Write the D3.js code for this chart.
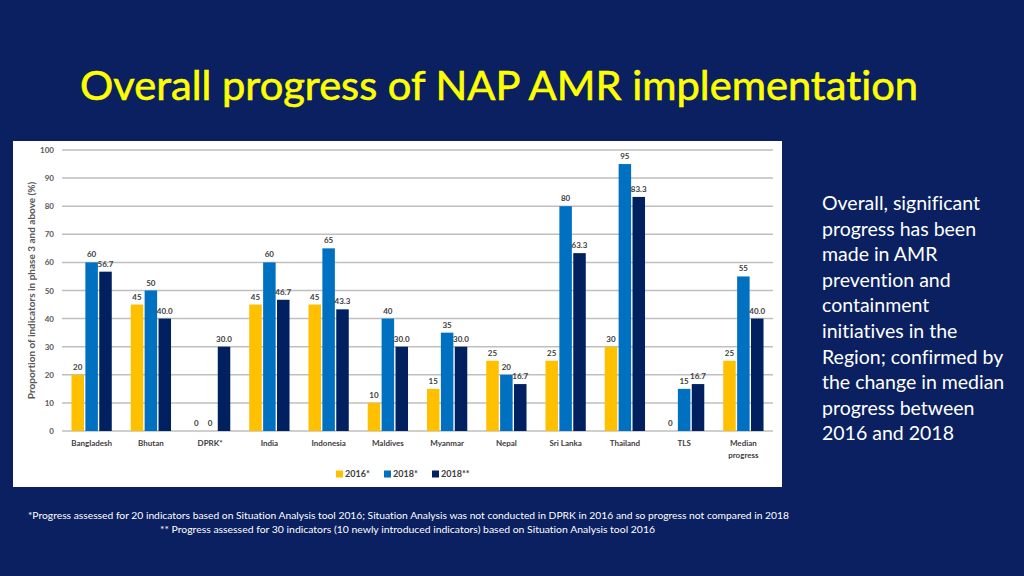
<!DOCTYPE html>
<html><head><meta charset="utf-8">
<script src="https://cdn.jsdelivr.net/npm/d3@7"></script>
<style>
html,body{margin:0;padding:0;background:#0a2060;}
svg{display:block;}
text{font-variant-ligatures:none;font-feature-settings:"liga" 0;}
</style></head>
<body>
<svg id="c" width="1024" height="576"></svg>
<script>
const categories = ["Bangladesh","Bhutan","DPRK*","India","Indonesia","Maldives","Myanmar","Nepal","Sri Lanka","Thailand","TLS","Median progress"];
const series2016 = [20,45,0,45,45,10,15,25,25,30,0,25];
const series2018a = [60,50,0,60,65,40,35,20,80,95,15,55];
const series2018b = [56.7,40.0,30.0,46.7,43.3,30.0,30.0,16.7,63.3,83.3,16.7,40.0];
const seriesNames = ["2016*","2018*","2018**"];
const yTicks = [0,10,20,30,40,50,60,70,80,90,100];
const colors = ["#FFC000","#0070C0","#002060"];

(function(){
const svg = d3.select("#c");
svg.append("rect").attr("width",1024).attr("height",576).attr("fill","#0a2060");

svg.append("text").attr("x",80).attr("y",100)
  .attr("font-family","Lato, 'Open Sans', sans-serif").attr("font-size",40)
  .attr("fill","#ffff00").attr("stroke","#ffff00").attr("stroke-width",0.6)
  .attr("textLength",838).attr("lengthAdjust","spacingAndGlyphs")
  .text("Overall progress of NAP AMR implementation");

svg.append("rect").attr("x",13).attr("y",141).attr("width",769).attr("height",346).attr("fill","#ffffff");

const pL=62, pR=773, pT=150, pB=431;
const x = d3.scaleBand().domain(categories).range([pL,pR]).paddingInner(0.32).paddingOuter(0.16);
const xs = d3.scaleBand().domain(seriesNames).range([0,x.bandwidth()]).paddingInner(0.1);
const y = d3.scaleLinear().domain([0,100]).range([pB,pT]);

svg.append("g").selectAll("line").data(yTicks).join("line")
  .attr("x1",pL).attr("x2",pR).attr("y1",d=>y(d)).attr("y2",d=>y(d))
  .attr("stroke","#bfbfbf").attr("stroke-width",1.5);

const yAxis = d3.axisLeft(y).tickValues(yTicks).tickSize(0).tickPadding(8);
const ga = svg.append("g").attr("transform",`translate(${pL},0)`).call(yAxis);
ga.select(".domain").remove();
ga.selectAll("text").attr("font-family","Lato, sans-serif").attr("font-size",8).attr("font-weight","bold").attr("fill","#595959");

svg.append("text").attr("transform",`translate(35,${(pT+pB)/2}) rotate(-90)`)
  .attr("text-anchor","middle").attr("font-family","Lato, sans-serif").attr("font-size",10).attr("font-weight","bold")
  .attr("fill","#595959").text("Proportion of indicators in phase 3 and above (%)");

const data = [series2016, series2018a, series2018b];
const fmt = [d3.format("d"), d3.format("d"), d3.format(".1f")];
data.forEach((vals,si)=>{
  const g = svg.append("g");
  g.selectAll("rect").data(vals).join("rect")
    .attr("x",(d,i)=>x(categories[i])+xs(seriesNames[si]))
    .attr("width",xs.bandwidth())
    .attr("y",d=>y(d)).attr("height",d=>pB-y(d))
    .attr("fill",colors[si]);
  g.selectAll("text").data(vals).join("text")
    .attr("x",(d,i)=>x(categories[i])+xs(seriesNames[si])+xs.bandwidth()/2)
    .attr("y",d=>y(d)-5)
    .attr("text-anchor","middle").attr("font-family","Lato, sans-serif").attr("font-size",8).attr("font-weight","bold")
    .attr("fill","#404040").text(d=>fmt[si](d));
});

const cl = svg.append("g");
categories.forEach(c=>{
  const words = c==="Median progress" ? ["Median","progress"] : [c];
  const t = cl.append("text").attr("x",x(c)+x.bandwidth()/2).attr("y",446)
    .attr("text-anchor","middle").attr("font-family","Lato, sans-serif").attr("font-size",8).attr("font-weight","bold").attr("fill","#404040");
  words.forEach((w,i)=>t.append("tspan").attr("x",x(c)+x.bandwidth()/2).attr("dy",i?12:0).text(w));
});

const lg = svg.append("g").attr("transform","translate(336,474)");
const lx=[0,48,96];
seriesNames.forEach((n,i)=>{
  lg.append("rect").attr("x",lx[i]).attr("y",-3.5).attr("width",7).attr("height",7).attr("fill",colors[i]);
  lg.append("text").attr("x",lx[i]+9).attr("y",3).attr("font-family","Lato, sans-serif").attr("font-size",9).attr("font-weight","bold").attr("fill","#404040").text(n);
});

const lines = ["Overall, significant","progress has been","made in AMR","prevention and","containment","initiatives in the","Region; confirmed by","the change in median","progress between","2016 and 2018"];
svg.append("g").selectAll("text").data(lines).join("text")
  .attr("x",822).attr("y",(d,i)=>210+i*25.6)
  .attr("font-family","Lato, 'Open Sans', sans-serif").attr("font-size",19.5).attr("fill","#ffffff").text(d=>d);

svg.append("text").attr("x",28).attr("y",519)
  .attr("font-family","Lato, sans-serif").attr("font-size",10).attr("fill","#ffffff")
  .attr("textLength",761).attr("lengthAdjust","spacingAndGlyphs")
  .text("*Progress assessed for 20 indicators based on Situation Analysis tool 2016; Situation Analysis was not conducted in DPRK in 2016 and so progress not compared in 2018");
svg.append("text").attr("x",160).attr("y",533)
  .attr("font-family","Lato, sans-serif").attr("font-size",10).attr("fill","#ffffff")
  .attr("textLength",495).attr("lengthAdjust","spacingAndGlyphs")
  .text("** Progress assessed for 30 indicators (10 newly introduced indicators) based on Situation Analysis tool 2016");
})();
</script>
</body></html>
